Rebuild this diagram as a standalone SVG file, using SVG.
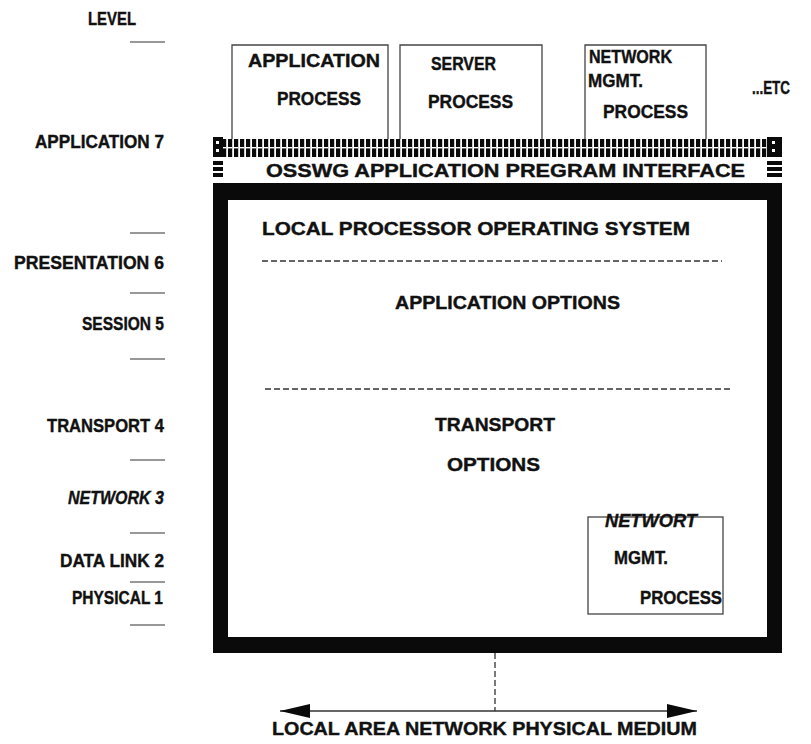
<svg xmlns="http://www.w3.org/2000/svg" width="811" height="744" viewBox="0 0 811 744">
  <defs>
    <style>
      text { font-family: "Liberation Sans", Arial, sans-serif; font-weight: bold; font-size: 19px; fill: #111; stroke: #111; stroke-width: 0.4; }
      .lvl { text-anchor: end; }
      .tick { stroke: #333; stroke-width: 1.2; }
      .box { fill: none; stroke: #444; stroke-width: 1.3; }
      .dash { stroke: #333; stroke-width: 1.3; stroke-dasharray: 6 3; fill: none; }
      .thick { fill: #0a0a0a; }
    </style>
    <!-- ladder of vertical bars along the interface edge -->
    <pattern id="ladder" x="222" y="139" width="6" height="18" patternUnits="userSpaceOnUse">
      <rect x="0" y="0" width="4.2" height="18" fill="#0a0a0a"/>
      <rect x="0" y="8" width="4.2" height="1.4" fill="#fff"/>
    </pattern>
    <marker id="arrow" viewBox="0 0 30 14" refX="30" refY="7" markerWidth="30" markerHeight="14" markerUnits="userSpaceOnUse" orient="auto-start-reverse">
      <path d="M0,0 L30,7 L0,14 Z" fill="#0a0a0a"/>
    </marker>
  </defs>

  <rect width="811" height="744" fill="#fff"/>

  <!-- level scale on the left -->
  <g id="levels">
    <text x="88" y="25" textLength="48" lengthAdjust="spacingAndGlyphs">LEVEL</text>
    <line class="tick" x1="130" y1="42" x2="165" y2="42"/>
    <text class="lvl" x="164" y="148" textLength="129" lengthAdjust="spacingAndGlyphs">APPLICATION 7</text>
    <line class="tick" x1="130" y1="233" x2="165" y2="233"/>
    <text class="lvl" x="164" y="269" textLength="150" lengthAdjust="spacingAndGlyphs">PRESENTATION 6</text>
    <line class="tick" x1="130" y1="293" x2="165" y2="293"/>
    <text class="lvl" x="164" y="330" textLength="82" lengthAdjust="spacingAndGlyphs">SESSION 5</text>
    <line class="tick" x1="130" y1="359" x2="165" y2="359"/>
    <text class="lvl" x="164" y="432" textLength="117" lengthAdjust="spacingAndGlyphs">TRANSPORT 4</text>
    <line class="tick" x1="130" y1="460" x2="165" y2="460"/>
    <text class="lvl" x="164" y="504" font-style="italic" textLength="96" lengthAdjust="spacingAndGlyphs">NETWORK 3</text>
    <line class="tick" x1="130" y1="533" x2="165" y2="533"/>
    <text class="lvl" x="164" y="567" textLength="104" lengthAdjust="spacingAndGlyphs">DATA LINK 2</text>
    <line class="tick" x1="130" y1="582" x2="165" y2="582"/>
    <text class="lvl" x="163" y="604" textLength="91" lengthAdjust="spacingAndGlyphs">PHYSICAL 1</text>
    <line class="tick" x1="130" y1="625" x2="165" y2="625"/>
  </g>

  <!-- application-level processes -->
  <g id="application-process">
    <path class="box" d="M232,139 V45 H388 V139"/>
    <text x="248" y="67" textLength="132" lengthAdjust="spacingAndGlyphs">APPLICATION</text>
    <text x="277" y="105" textLength="84" lengthAdjust="spacingAndGlyphs">PROCESS</text>
  </g>
  <g id="server-process">
    <path class="box" d="M400,139 V45 H542 V139"/>
    <text x="431" y="70" textLength="65" lengthAdjust="spacingAndGlyphs">SERVER</text>
    <text x="428" y="108" textLength="85" lengthAdjust="spacingAndGlyphs">PROCESS</text>
  </g>
  <g id="network-mgmt-process">
    <path class="box" d="M585,139 V45 H706 V139"/>
    <text x="589" y="63" textLength="83" lengthAdjust="spacingAndGlyphs">NETWORK</text>
    <text x="588" y="87" textLength="55" lengthAdjust="spacingAndGlyphs">MGMT.</text>
    <text x="603" y="118" textLength="85" lengthAdjust="spacingAndGlyphs">PROCESS</text>
  </g>
  <g id="etc">
    <text x="752" y="94" textLength="38" lengthAdjust="spacingAndGlyphs">...ETC</text>
  </g>

  <!-- programming interface band -->
  <g id="api">
    <rect x="222" y="139" width="545" height="18" fill="url(#ladder)"/>
    <!-- left end block -->
    <rect class="thick" x="213" y="137" width="10" height="20"/>
    <rect x="216" y="141" width="3" height="3" fill="#fff"/>
    <rect x="216" y="149" width="3" height="3" fill="#fff"/>
    <rect class="thick" x="213" y="161" width="10" height="4"/>
    <rect class="thick" x="213" y="167" width="10" height="4"/>
    <rect class="thick" x="213" y="173" width="10" height="4"/>
    <!-- right end block -->
    <rect class="thick" x="767" y="137" width="15" height="20"/>
    <rect x="772" y="141" width="3" height="3" fill="#fff"/>
    <rect x="772" y="149" width="3" height="3" fill="#fff"/>
    <rect class="thick" x="767" y="161" width="15" height="4"/>
    <rect class="thick" x="767" y="167" width="15" height="4"/>
    <rect class="thick" x="767" y="173" width="15" height="4"/>
    <text x="266" y="177" textLength="479" lengthAdjust="spacingAndGlyphs">OSSWG APPLICATION PREGRAM INTERFACE</text>
  </g>

  <!-- local processor frame -->
  <g id="local-processor">
    <path class="thick" fill-rule="evenodd" d="M213,183 H782 V653 H213 Z M228,200 V637 H767 V200 Z"/>
    <text x="262" y="235" textLength="428" lengthAdjust="spacingAndGlyphs">LOCAL PROCESSOR OPERATING SYSTEM</text>
    <line class="dash" x1="262" y1="261" x2="722" y2="261"/>
    <text x="395" y="309" textLength="225" lengthAdjust="spacingAndGlyphs">APPLICATION OPTIONS</text>
    <line class="dash" x1="265" y1="389" x2="733" y2="389"/>
    <text x="435" y="431" textLength="120" lengthAdjust="spacingAndGlyphs">TRANSPORT</text>
    <text x="447" y="471" textLength="93" lengthAdjust="spacingAndGlyphs">OPTIONS</text>
  </g>

  <g id="local-network-mgmt">
    <rect class="box" x="588" y="517" width="135" height="97"/>
    <text x="605" y="527" font-style="italic" textLength="92" lengthAdjust="spacingAndGlyphs">NETWORT</text>
    <text x="614" y="564" textLength="54" lengthAdjust="spacingAndGlyphs">MGMT.</text>
    <text x="640" y="604" textLength="82" lengthAdjust="spacingAndGlyphs">PROCESS</text>
  </g>

  <!-- attachment to the physical medium -->
  <g id="connectors">
    <line class="dash" x1="495" y1="653" x2="495" y2="711" stroke-dasharray="8 4"/>
    <line x1="280" y1="711" x2="697" y2="711" stroke="#333" stroke-width="1.3" marker-start="url(#arrow)" marker-end="url(#arrow)"/>
  </g>
  <g id="medium">
    <text x="272" y="735" textLength="425" lengthAdjust="spacingAndGlyphs">LOCAL AREA NETWORK PHYSICAL MEDIUM</text>
  </g>
</svg>
